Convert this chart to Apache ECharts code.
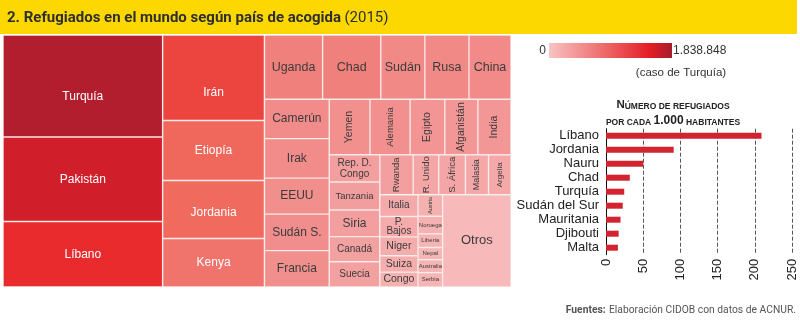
<!DOCTYPE html>
<html>
<head>
<meta charset="utf-8">
<script src="https://cdn.jsdelivr.net/npm/echarts@6/dist/echarts.min.js"></script>
<style>
  html, body { margin: 0; padding: 0; background: #ffffff; }
  #grafico { width: 800px; height: 323px; }
</style>
</head>
<body>
<div id="grafico"></div>
<script>
// Refugiados por país de acogida, 2015 (datos ACNUR)
const bloqueA = ['Turquía', 'Pakistán', 'Líbano'];
const valoresA = [1838848, 1524000, 1181000];
const bloqueB = ['Irán', 'Etiopía', 'Jordania', 'Kenya'];
const valoresB = [983000, 690000, 667000, 558000];
const filaC = ['Uganda', 'Chad', 'Sudán', 'Rusa', 'China'];
const valoresC = [422000, 422000, 320000, 320000, 305000];
const columnaD = ['Camerún', 'Irak', 'EEUU', 'Sudán S.', 'Francia'];
const valoresD = [288000, 289000, 264000, 267000, 266000];
const filaE = ['Yemen', 'Alemania', 'Egipto', 'Afganistán', 'India'];
const valoresE = [256000, 252000, 218000, 208000, 208000];
const columnaF = ['Rep. D.\nCongo', 'Tanzania', 'Siria', 'Canadá', 'Suecia'];
const valoresF = [155000, 160000, 152000, 144000, 144000];
const filaG = ['Rwanda', 'R. Unido', 'S. África', 'Malasia', 'Argelia'];
const valoresG = [150000, 115000, 120000, 104000, 101000];
const columnaH = ['Italia', 'P.\nBajos', 'Niger', 'Suiza', 'Congo'];
const valoresH = [94000, 88000, 81000, 71000, 64000];
const columnaI = ['Austria', 'Noruega', 'Liberia', 'Nepal', 'Australia', 'Serbia'];
const valoresI = [60000, 49000, 38000, 34000, 36000, 40000];
const restoNombre = 'Otros';
const restoValor = 713000;

// Escala de color (0 – máximo, caso de Turquía)
const escalaMax = 1838848;
const escalaTextos = ['0', '1.838.848', '(caso de Turquía)'];

// Refugiados por cada 1.000 habitantes
const paisesRatio = ['Líbano', 'Jordania', 'Nauru', 'Chad', 'Turquía', 'Sudán del Sur', 'Mauritania', 'Djibouti', 'Malta'];
const refugiadosPorMil = [209, 91, 50, 32, 24.5, 22.5, 19.5, 17, 16];
const ejeRatio = { min: 0, max: 250, paso: 50 };

const FUENTE = '"Liberation Sans", Arial, Helvetica, sans-serif';
const FUENTE_TITULO = 'Roboto, "Liberation Sans", sans-serif';

const rampa = ['#f8c3c3', '#f7baba', '#f5aeae', '#f39d9d', '#f18b89', '#f07d77',
               '#f06b5f', '#ee5146', '#e92b2e', '#d31e2b', '#b21e2e'];
function colorDe(v) {
  return echarts.color.lerp(Math.sqrt(v / escalaMax), rampa);
}

const etiquetaBase = {
  show: true, position: 'inside', align: 'center', verticalAlign: 'middle',
  padding: 0, overflow: 'none', fontFamily: FUENTE, fontSize: 12, color: '#3b3b3b'
};
const estiloBloque = {
  A: { color: '#ffffff', fontSize: 12 },
  B: { color: '#ffffff', fontSize: 12 },
  C: { fontSize: 12.5 },
  D: { fontSize: 12 },
  E: { fontSize: 10.5, rotate: 90 },
  F: { fontSize: 10 },
  G: { fontSize: 9.5, rotate: 90 },
  H: { fontSize: 10.5 },
  I: { fontSize: 6 }
};
const ajusteEtiqueta = {
  'Turquía': { offset: [0, 11] },
  'Irán': { offset: [0, 15] },
  'Jordania': { offset: [0, 3] },
  'Rep. D.\nCongo': { lineHeight: 11 },
  'Tanzania': { fontSize: 9.5 },
  'Siria': { fontSize: 12 },
  'Alemania': { fontSize: 9.5 },
  'Malasia': { fontSize: 9 },
  'Argelia': { fontSize: 8 },
  'P.\nBajos': { fontSize: 10, lineHeight: 9 },
  'Italia': { fontSize: 10 },
  'Austria': { fontSize: 5.5, rotate: 90 },
  'Otros': { fontSize: 13 }
};

function hoja(nombre, valor, bloque, colorFijo) {
  return {
    name: nombre,
    value: valor,
    itemStyle: { color: colorFijo || colorDe(valor), borderWidth: 0.7, borderColor: '#fbe6e6' },
    label: Object.assign({}, etiquetaBase, estiloBloque[bloque] || {}, ajusteEtiqueta[nombre] || {})
  };
}
function hojas(nombres, valores, bloque) {
  return nombres.map((n, i) => hoja(n, valores[i], bloque));
}
function grupo(hijos) {
  return { name: '', children: hijos };
}
// Apila nodos de arriba abajo agrupándolos desde el primero: (((a, b), c), d)
function pila(nodos) {
  let g = nodos[0];
  for (let i = 1; i < nodos.length; i++) g = grupo([g, nodos[i]]);
  return g;
}

// Estructura anidada: cada grupo ocupa una franja completa de su rectángulo
const arbol = [
  pila(hojas(bloqueA, valoresA, 'A')),
  grupo(hojas(bloqueB, valoresB, 'B')),
  grupo([
    grupo(hojas(filaC, valoresC, 'C')),
    grupo([
      grupo(hojas(columnaD, valoresD, 'D')),
      grupo([
        grupo(hojas(filaE, valoresE, 'E')),
        grupo([
          pila(hojas(columnaF, valoresF, 'F')),
          grupo([
            grupo(hojas(filaG, valoresG, 'G')),
            grupo([
              pila(hojas(columnaH, valoresH, 'H')),
              grupo([
                grupo(hojas(columnaI, valoresI, 'I')),
                hoja(restoNombre, restoValor, 'Otros', '#f7b9b9')
              ])
            ])
          ])
        ])
      ])
    ])
  ])
];

const grafico = echarts.init(document.getElementById('grafico'), null, { renderer: 'canvas' });

const opcion = {
  animation: false,
  backgroundColor: '#ffffff',
  textStyle: { fontFamily: FUENTE },
  graphic: [
    { type: 'rect', left: 0, top: 0, shape: { width: 797, height: 34 }, style: { fill: '#fcd800' }, silent: true },
    {
      type: 'text', x: 7, y: 18, silent: true,
      style: {
        text: '{b|2. Refugiados en el mundo según país de acogida} {n|(2015)}',
        verticalAlign: 'middle', align: 'left',
        rich: {
          b: { fontFamily: FUENTE_TITULO, fontWeight: 'bold', fontSize: 15, fill: '#2f2f2f' },
          n: { fontFamily: FUENTE_TITULO, fontWeight: 'normal', fontSize: 15, fill: '#2f2f2f' }
        }
      }
    },
    {
      type: 'rect', left: 549, top: 43, shape: { width: 123, height: 15 }, silent: true,
      style: {
        fill: new echarts.graphic.LinearGradient(0, 0, 1, 0, [
          { offset: 0, color: rampa[0] },
          { offset: 0.45, color: '#ee6a6a' },
          { offset: 0.82, color: '#e31d25' },
          { offset: 1, color: '#a61c2f' }
        ])
      }
    },
    { type: 'text', x: 546, y: 51, silent: true,
      style: { text: escalaTextos[0], align: 'right', verticalAlign: 'middle', fontFamily: FUENTE, fontSize: 12, fill: '#333' } },
    { type: 'text', x: 673, y: 51, silent: true,
      style: { text: escalaTextos[1], align: 'left', verticalAlign: 'middle', fontFamily: FUENTE, fontSize: 12, fill: '#333' } },
    { type: 'text', x: 681, y: 73, silent: true,
      style: { text: escalaTextos[2], align: 'center', verticalAlign: 'middle', fontFamily: FUENTE, fontSize: 11.5, fill: '#333' } },
    {
      type: 'text', x: 673, y: 105, silent: true,
      style: {
        text: '{g|N}{p|ÚMERO DE REFUGIADOS}', align: 'center', verticalAlign: 'middle',
        rich: {
          g: { fontFamily: FUENTE, fontWeight: 'bold', fontSize: 11.5, lineHeight: 12, verticalAlign: 'bottom', fill: '#222' },
          p: { fontFamily: FUENTE, fontWeight: 'bold', fontSize: 8.5, lineHeight: 9, verticalAlign: 'bottom', fill: '#222' }
        }
      }
    },
    {
      type: 'text', x: 673, y: 121, silent: true,
      style: {
        text: '{p|POR CADA }{g|1.000}{p| HABITANTES}', align: 'center', verticalAlign: 'middle',
        rich: {
          g: { fontFamily: FUENTE, fontWeight: 'bold', fontSize: 12, lineHeight: 12, verticalAlign: 'bottom', fill: '#222' },
          p: { fontFamily: FUENTE, fontWeight: 'bold', fontSize: 8.5, lineHeight: 9, verticalAlign: 'bottom', fill: '#222' }
        }
      }
    },
    {
      type: 'text', x: 796, y: 310, silent: true,
      style: {
        text: '{b|Fuentes:} {n|Elaboración CIDOB con datos de ACNUR.}', align: 'right', verticalAlign: 'middle',
        rich: {
          b: { fontFamily: FUENTE_TITULO, fontWeight: 'bold', fontSize: 10.3, fill: '#555' },
          n: { fontFamily: FUENTE_TITULO, fontSize: 10.3, fill: '#555' }
        }
      }
    }
  ],
  grid: { left: 606, top: 128.7, width: 186, height: 126, containLabel: false, outerBoundsMode: 'none' },
  xAxis: {
    type: 'value', min: ejeRatio.min, max: ejeRatio.max, interval: ejeRatio.paso,
    axisLine: { show: false }, axisTick: { show: false },
    axisLabel: { rotate: 90, margin: 4, fontSize: 13, color: '#222', fontFamily: FUENTE },
    splitLine: { show: true, lineStyle: { type: [4, 2], color: '#555', width: 1 } }
  },
  yAxis: {
    type: 'category', inverse: true, data: paisesRatio,
    axisLine: { show: true, lineStyle: { color: '#111', width: 1 } },
    axisTick: { show: false },
    axisLabel: { interval: 0, fontSize: 13, color: '#222', margin: 7, fontFamily: FUENTE }
  },
  series: [
    {
      type: 'treemap',
      left: 3, top: 35, width: 508, height: 252,
      squareRatio: 0.5,
      sort: false,
      roam: false,
      nodeClick: false,
      silent: true,
      breadcrumb: { show: false },
      itemStyle: { borderWidth: 0, gapWidth: 0, borderColor: '#ffffff' },
      upperLabel: { show: false },
      label: etiquetaBase,
      data: arbol
    },
    {
      type: 'bar',
      data: refugiadosPorMil,
      barWidth: 6,
      silent: true,
      itemStyle: { color: '#d2232e' }
    }
  ]
};

grafico.setOption(opcion);
</script>
</body>
</html>
